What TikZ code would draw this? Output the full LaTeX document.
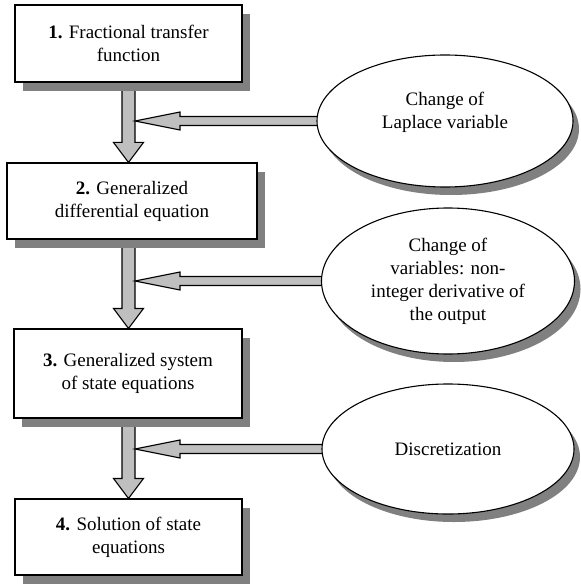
\documentclass[tikz,border=0pt]{standalone}
\usepackage{fontspec}
\setmainfont{Liberation Serif}
\usetikzlibrary{shapes.geometric, shadows, calc, backgrounds}

\tikzset{
    stage/.style={draw, line width=1.1pt, fill=white, align=center, inner sep=0pt,
        font=\fontsize{19}{23}\selectfont,
        drop shadow={shadow xshift=8pt, shadow yshift=-9pt, fill=black!50, opacity=1}},
    change/.style={ellipse, draw, line width=1.1pt, fill=white, align=center, inner sep=0pt,
        font=\fontsize{19}{23}\selectfont,
        drop shadow={shadow xshift=6pt, shadow yshift=-8pt, fill=black!50, opacity=1}},
    fatarrow/.style={draw, line width=1.1pt, fill=black!25, line join=miter}
}

\begin{document}
\begin{tikzpicture}[x=1pt, y=-1pt]

    \useasboundingbox (0,0) rectangle (580,585);

    % Stages
    \node[stage, minimum width=227pt, minimum height=77pt] (b1) at (128.5, 43.5) {\textbf{1.} Fractional transfer\\function};
    \node[stage, minimum width=250pt, minimum height=76pt] (b2) at (132, 201) {\textbf{2.} Generalized\\differential equation};
    \node[stage, minimum width=228pt, minimum height=89pt] (b3) at (128, 373.5) {\textbf{3.} Generalized system\\of state equations};
    \node[stage, minimum width=227pt, minimum height=76pt] (b4) at (128.5, 537) {\textbf{4.} Solution of state\\equations};

    % Changes applied between stages
    \node[change, minimum width=256pt, minimum height=132pt] (e1) at (445, 121)
        {\raisebox{4pt}[0pt][0pt]{\begin{tabular}{@{}c@{}}Change of\\Laplace variable\end{tabular}}};
    \node[change, minimum width=253pt, minimum height=146pt] (e2) at (448, 281) {Change of\\variables: non-\\integer derivative of\\the output};
    \node[change, minimum width=252pt, minimum height=130pt] (e3) at (448, 449) {Discretization};

    % Block arrows
    \begin{scope}[on background layer]
    \foreach \from/\to/\via in {b1/b2/e1, b2/b3/e2, b3/b4/e3} {
        \coordinate (top) at (b1.south |- \from.south);
        \coordinate (tip) at (b1.south |- \to.north);
        \coordinate (side) at ($(b1.south |- \via.west)+(6.5,0)$);
        \draw[fatarrow] ($(top)+(-6.5,0)$) -- ($(tip)+(-6.5,-20)$) -- ($(tip)+(-15,-20)$) -- (tip)
            -- ($(tip)+(15,-20)$) -- ($(tip)+(6.5,-20)$) -- ($(top)+(6.5,0)$) -- cycle;
        \draw[fatarrow] ($(\via.west)+(6,-4.5)$) -- ($(side)+(45,-4.5)$) -- ($(side)+(45,-9)$) -- (side)
            -- ($(side)+(45,9)$) -- ($(side)+(45,4.5)$) -- ($(\via.west)+(6,4.5)$) -- cycle;
    }
    \end{scope}

\end{tikzpicture}
\end{document}
